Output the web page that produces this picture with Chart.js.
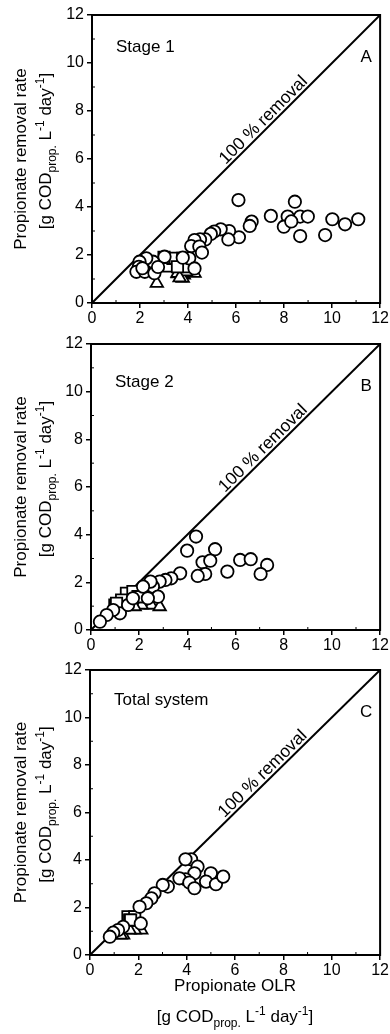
<!DOCTYPE html>
<html lang="en">
<head>
  <meta charset="UTF-8">
  <title>Propionate removal rate vs OLR</title>
  <script src="https://cdn.jsdelivr.net/npm/chart.js@4.4.3/dist/chart.umd.min.js"></script>
  <style>
    body { margin: 0; background: #fff; }
    #wrap { position: relative; width: 390px; height: 1034px; }
    canvas { position: absolute; left: 0; }
  </style>
</head>
<body>
  <div id="wrap">
    <canvas id="panel-a" width="390" height="330" style="top:0"></canvas>
    <canvas id="panel-b" width="390" height="320" style="top:330px"></canvas>
    <canvas id="panel-c" width="390" height="384" style="top:650px"></canvas>
  </div>

  <script>
    // axis ticks (same for all panels)
    const xTicks = [0, 2, 4, 6, 8, 10, 12];
    const yTicks = [0, 2, 4, 6, 8, 10, 12];
    const lineX = [0, 12];
    const lineY = [0, 12];

    // Stage 1 (A)
    const aCircleX = [6.1, 8.45, 7.45, 8.15, 8.67, 8.99, 7.99, 8.3, 8.67, 9.71, 10.01, 10.54, 11.09, 6.65, 6.57, 6.12, 5.71, 5.68, 5.36, 5.09, 4.95, 4.72, 4.5, 4.27, 4.13, 4.47, 4.58, 4.05, 3.78, 3.02, 2.54, 2.26, 1.98, 1.95, 1.85, 2.2, 2.6, 4.27, 2.75, 2.1];
    const aCircleY = [4.29, 4.22, 3.63, 3.6, 3.6, 3.6, 3.18, 3.4, 2.79, 2.83, 3.49, 3.28, 3.49, 3.39, 3.21, 2.74, 3.0, 2.65, 3.07, 2.98, 2.88, 2.65, 2.65, 2.62, 2.37, 2.35, 2.1, 1.86, 1.89, 1.93, 1.72, 1.86, 1.72, 1.51, 1.3, 1.3, 1.24, 1.44, 1.5, 1.45];
    const aSquareX = [3.2, 3.37, 3.78, 3.84, 3.56, 3.0];
    const aSquareY = [1.54, 1.86, 1.86, 1.51, 1.51, 1.9];
    const aTriX = [2.7, 3.56, 3.78, 4.27, 3.92, 3.65];
    const aTriY = [0.82, 1.24, 1.03, 1.24, 1.3, 1.05];
    const aTriFillX = [3.55, 3.85];
    const aTriFillY = [1.2, 1.15];

    // Stage 2 (B)
    const bCircleX = [4.36, 3.99, 5.15, 4.63, 4.95, 4.74, 4.43, 5.66, 6.19, 6.63, 7.31, 7.04, 3.7, 3.33, 3.09, 2.85, 2.57, 2.47, 2.16, 2.78, 2.36, 1.2, 0.92, 0.65, 0.37, 1.54, 1.74];
    const bCircleY = [3.92, 3.33, 3.39, 2.84, 2.91, 2.35, 2.27, 2.45, 2.94, 2.97, 2.73, 2.35, 2.38, 2.17, 2.1, 2.03, 1.82, 2.03, 1.82, 1.4, 1.33, 0.7, 0.84, 0.63, 0.35, 1.05, 1.33];
    const bSquareX = [1.47, 1.74, 1.27, 0.99, 1.95, 1.06, 2.02];
    const bSquareY = [1.54, 1.61, 1.26, 1.05, 1.4, 1.12, 1.4];
    const bTriX = [2.3, 2.5, 2.85, 1.74, 2.1, 1.81];
    const bTriY = [1.05, 1.05, 0.98, 1.05, 1.05, 0.98];
    const bTriFillX = [2.3, 2.0];
    const bTriFillY = [1.26, 1.15];

    // Total system (C)
    const cCircleX = [4.18, 3.95, 4.45, 4.32, 3.95, 3.7, 4.11, 4.32, 5.0, 4.8, 5.21, 5.51, 3.22, 3.01, 2.67, 2.54, 2.33, 2.05, 2.1, 1.37, 1.16, 0.96, 0.82];
    const cCircleY = [4.03, 4.03, 3.72, 3.44, 3.19, 3.23, 3.05, 2.81, 3.44, 3.09, 2.98, 3.3, 2.88, 2.95, 2.6, 2.39, 2.18, 2.03, 1.33, 1.19, 1.05, 0.94, 0.77];
    const cSquareX = [1.57, 1.85, 1.64, 1.68];
    const cSquareY = [1.61, 1.61, 1.47, 1.47];
    const cTriX = [1.37, 2.12, 1.85, 1.64, 1.27];
    const cTriY = [0.84, 1.05, 1.05, 1.05, 0.84];
    const cTriFillX = [1.85, 1.97];
    const cTriFillY = [1.26, 1.14];

    const FONT = "'Liberation Sans', Arial, sans-serif";
    const toPts = (xs, ys) => xs.map((v, i) => ({ x: v, y: ys[i] }));

    // draw text with sub/superscript pieces, centred on (cx, cy), rotated by rot
    function richText(ctx, parts, cx, cy, rot, size) {
      const small = Math.round(size * 0.72);
      const fontFor = p => (p.sub || p.sup ? small : size) + 'px ' + FONT;
      let total = 0;
      parts.forEach(p => { ctx.font = fontFor(p); total += ctx.measureText(p.t).width; });
      ctx.save();
      ctx.translate(cx, cy);
      ctx.rotate(rot);
      ctx.textBaseline = 'alphabetic';
      ctx.textAlign = 'left';
      ctx.fillStyle = '#000';
      let x = -total / 2;
      const base = size * 0.36;
      parts.forEach(p => {
        ctx.font = fontFor(p);
        let dy = 0;
        if (p.sub) dy = size * 0.3;
        if (p.sup) dy = -size * 0.42;
        ctx.fillText(p.t, x, base + dy);
        x += ctx.measureText(p.t).width;
      });
      ctx.restore();
    }

    const unitParts = [
      { t: '[g COD' }, { t: 'prop.', sub: true }, { t: ' L' }, { t: '-1', sup: true },
      { t: ' day' }, { t: '-1', sup: true }, { t: ']' }
    ];

    const decor = {
      id: 'decor',
      afterDatasetsDraw(chart, args, opts) {
        const { ctx, chartArea: a, scales: { x, y } } = chart;
        ctx.save();
        // frame
        ctx.strokeStyle = '#000';
        ctx.lineWidth = 2;
        ctx.strokeRect(a.left, a.top, a.right - a.left, a.bottom - a.top);
        // minor ticks, pointing in
        ctx.lineWidth = 1;
        for (let v = 1; v < 12; v += 2) {
          const py = y.getPixelForValue(v);
          ctx.beginPath(); ctx.moveTo(a.left, py); ctx.lineTo(a.left + 3, py); ctx.stroke();
          const px = x.getPixelForValue(v);
          ctx.beginPath(); ctx.moveTo(px, a.bottom); ctx.lineTo(px, a.bottom - 3); ctx.stroke();
        }
        // panel texts
        ctx.fillStyle = '#000';
        ctx.font = '17px ' + FONT;
        ctx.textBaseline = 'alphabetic';
        ctx.textAlign = 'left';
        ctx.fillText(opts.stage, a.left + 24, a.top + opts.stageDy);
        ctx.textAlign = 'center';
        ctx.textBaseline = 'middle';
        ctx.fillText(opts.letter, a.right - 14, a.top + 42);
        // 100 % removal along the diagonal
        const ang = Math.atan2(y.getPixelForValue(12) - y.getPixelForValue(0), x.getPixelForValue(12) - x.getPixelForValue(0));
        const lx = x.getPixelForValue(7.38), ly = y.getPixelForValue(7.38);
        const off = 8;
        ctx.save();
        ctx.translate(lx + Math.sin(ang) * off, ly - Math.cos(ang) * off);
        ctx.rotate(ang);
        ctx.font = '17.5px ' + FONT;
        ctx.fillText('100 % removal', 0, 0);
        ctx.restore();
        // y title
        const cy = (a.top + a.bottom) / 2;
        richText(ctx, [{ t: 'Propionate removal rate' }], 20, cy, -Math.PI / 2, 17);
        richText(ctx, unitParts, 45, cy - 8, -Math.PI / 2, 17);
        // x title (bottom panel only)
        if (opts.xTitle) {
          const cx = (a.left + a.right) / 2;
          richText(ctx, [{ t: 'Propionate OLR' }], cx, a.bottom + 30, 0, 17);
          richText(ctx, unitParts, cx, a.bottom + 61, 0, 17);
        }
        ctx.restore();
      }
    };

    function makePanel(id, box, pts, texts) {
      const canvas = document.getElementById(id);
      const H = canvas.height;
      const marker = (label, data, style, radius, fill) => ({
        label, data, type: 'scatter', pointStyle: style, pointRadius: radius,
        pointBackgroundColor: fill, pointBorderColor: '#000', pointBorderWidth: 1.8,
        pointHoverRadius: radius, showLine: false
      });
      new Chart(canvas, {
        type: 'scatter',
        data: {
          datasets: [
            { label: '100 % removal', data: toPts(lineX, lineY), showLine: true, borderColor: '#000', borderWidth: 2, pointRadius: 0, order: 5 },
            marker('circles', toPts(pts.cx, pts.cy), 'circle', 6.2, '#fff'),
            marker('squares', toPts(pts.sx, pts.sy), 'rect', 8, '#fff'),
            marker('triangles', toPts(pts.tx, pts.ty), 'triangle', 7.2, '#fff'),
            marker('filled triangles', toPts(pts.fx, pts.fy), 'triangle', 6.5, '#000')
          ]
        },
        options: {
          responsive: false,
          animation: false,
          events: [],
          layout: { padding: { top: box.top, right: 390 - box.right, left: 0, bottom: 0 } },
          plugins: { legend: { display: false }, tooltip: { enabled: false }, decor: texts },
          scales: {
            x: {
              type: 'linear', min: 0, max: 12,
              afterBuildTicks: s => { s.ticks = xTicks.map(v => ({ value: v })); },
              afterFit: s => { s.height = H - box.bottom; },
              grid: { drawOnChartArea: false, color: '#000', tickLength: 5, lineWidth: 1.5 },
              border: { color: '#000', width: 2 },
              ticks: { color: '#000', font: { family: FONT, size: 16 }, padding: 1, maxRotation: 0 }
            },
            y: {
              type: 'linear', min: 0, max: 12,
              afterBuildTicks: s => { s.ticks = yTicks.map(v => ({ value: v })); },
              afterFit: s => { s.width = box.left; },
              grid: { drawOnChartArea: false, color: '#000', tickLength: 5, lineWidth: 1.5 },
              border: { color: '#000', width: 2 },
              ticks: { color: '#000', font: { family: FONT, size: 16 }, padding: 3 }
            }
          }
        },
        plugins: [decor]
      });
    }

    makePanel('panel-a', { left: 92, right: 382, top: 15, bottom: 303 },
      { cx: aCircleX, cy: aCircleY, sx: aSquareX, sy: aSquareY, tx: aTriX, ty: aTriY, fx: aTriFillX, fy: aTriFillY },
      { stage: 'Stage 1', stageDy: 37, letter: 'A' });
    makePanel('panel-b', { left: 91, right: 382, top: 14, bottom: 300 },
      { cx: bCircleX, cy: bCircleY, sx: bSquareX, sy: bSquareY, tx: bTriX, ty: bTriY, fx: bTriFillX, fy: bTriFillY },
      { stage: 'Stage 2', stageDy: 43, letter: 'B' });
    makePanel('panel-c', { left: 90, right: 382, top: 20, bottom: 305 },
      { cx: cCircleX, cy: cCircleY, sx: cSquareX, sy: cSquareY, tx: cTriX, ty: cTriY, fx: cTriFillX, fy: cTriFillY },
      { stage: 'Total system', stageDy: 35, letter: 'C', xTitle: true });
  </script>
</body>
</html>
